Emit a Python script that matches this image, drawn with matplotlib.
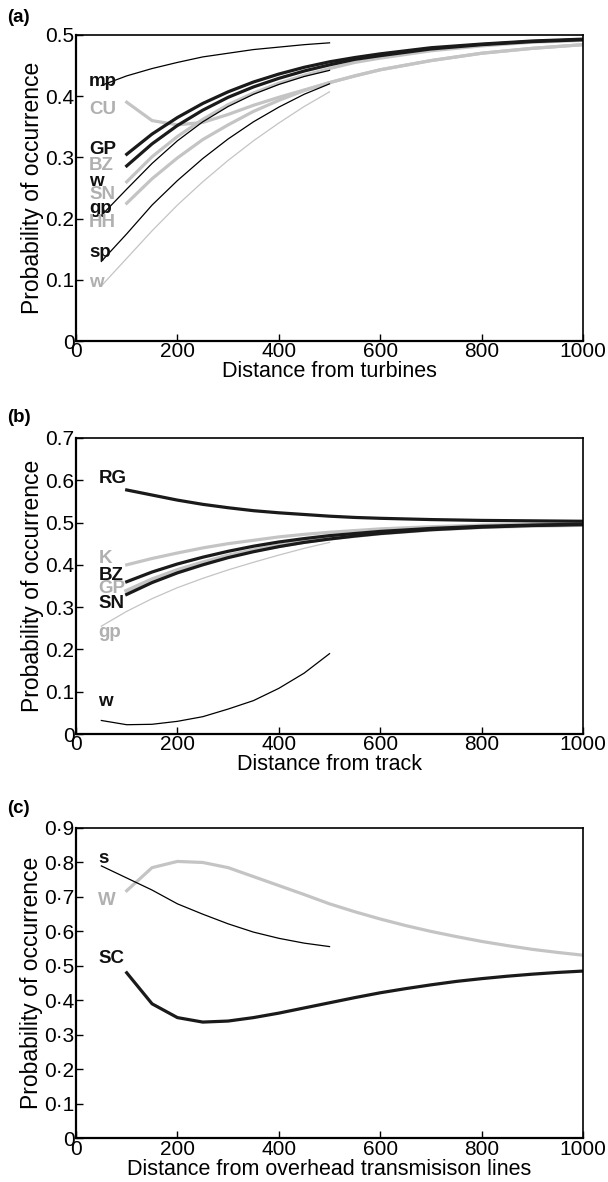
import matplotlib
matplotlib.use('Agg')
import matplotlib.pyplot as plt

plt.rcParams['font.family'] = ['Liberation Sans', 'DejaVu Sans']

GRIS = '#c4c4c4'
GRIS_TXT = '#b0b0b0'

# distances
x_long = [100, 150, 200, 250, 300, 350, 400, 450, 500, 550, 600, 700, 800, 900, 1000]
x_court = [50, 100, 150, 200, 250, 300, 350, 400, 450, 500]
x_c = [100, 150, 200, 250, 300, 350, 400, 450, 500, 550, 600, 650, 700, 750, 800, 850, 900, 950, 1000]

##### (a) turbines
a_GP = [.305, .338, .365, .388, .407, .423, .436, .447, .456, .463, .469, .479, .485, .490, .493]
a_noir2 = [.286, .322, .352, .377, .398, .415, .429, .441, .451, .460, .466, .477, .484, .489, .492]
a_BZ = [.260, .301, .334, .362, .386, .405, .421, .434, .445, .455, .462, .474, .482, .488, .491]
a_SN = [.225, .265, .299, .329, .353, .375, .393, .409, .422, .433, .443, .458, .470, .478, .484]
a_CU = [.390, .360, .353, .357, .370, .385, .398, .410, .422, .433, .443, .458, .470, .478, .484]
a_mp = [.4175, .433, .445, .455, .464, .470, .476, .480, .484, .487]
a_gp = [.205, .248, .290, .327, .358, .383, .403, .419, .432, .442]
a_sp = [.130, .175, .222, .262, .298, .330, .358, .382, .403, .420]
a_w = [.090, .135, .180, .222, .260, .295, .327, .356, .383, .407]

a_labels = ['mp', 'CU', 'GP', 'BZ', 'w', 'SN', 'gp', 'HH', 'sp', 'w']
a_label_y = [.424, .378, .312, .287, .260, .240, .217, .193, .144, .096]
a_label_gris = [False, True, False, True, False, True, False, True, False, True]

##### (b) track
b_RG = [.577, .565, .553, .543, .535, .528, .523, .519, .515, .512, .510, .507, .505, .504, .503]
b_K = [.400, .415, .428, .440, .450, .458, .466, .472, .477, .481, .485, .490, .494, .496, .497]
b_BZ = [.360, .383, .402, .418, .432, .444, .454, .462, .469, .474, .479, .486, .491, .494, .496]
b_GP = [.338, .365, .387, .405, .421, .434, .445, .455, .463, .469, .475, .484, .490, .493, .495]
b_SN = [.330, .358, .381, .400, .417, .431, .443, .453, .461, .468, .474, .483, .489, .493, .495]
b_gp = [.255, .290, .320, .346, .368, .388, .406, .423, .439, .453]
b_w = [.032, .022, .023, .030, .041, .059, .079, .108, .144, .190]

b_labels = ['RG', 'K', 'BZ', 'GP', 'SN', 'gp', 'w']
b_label_y = [.605, .414, .375, .343, .309, .240, .076]
b_label_gris = [False, True, False, True, False, True, False]

##### (c) overhead lines
c_W = [.718, .785, .803, .800, .785, .759, .733, .707, .680, .657, .636, .617, .600, .585, .571, .559, .548, .539, .531]
c_SC = [.480, .390, .350, .337, .340, .350, .363, .378, .393, .408, .422, .434, .445, .455, .463, .470, .476, .481, .485]
c_s = [.790, .755, .720, .680, .650, .622, .598, .580, .566, .556]

c_labels = ['s', 'W', 'SC']
c_label_y = [.812, .690, .520]
c_label_gris = [False, True, False]


fig = plt.figure(figsize=(6.08, 11.82), dpi=100)
ax1 = fig.add_axes([0.125, 0.7115, 0.834, 0.2590])
ax2 = fig.add_axes([0.125, 0.3790, 0.834, 0.2505])
ax3 = fig.add_axes([0.125, 0.0370, 0.834, 0.2625])

epais = 2.3
fin = 0.9

# (a)
ax1.plot(x_long, a_CU, color=GRIS, lw=epais)
ax1.plot(x_long, a_SN, color=GRIS, lw=epais)
ax1.plot(x_long, a_BZ, color=GRIS, lw=epais)
ax1.plot(x_court, a_w, color=GRIS, lw=fin)
ax1.plot(x_long, a_GP, color='#1a1a1a', lw=epais)
ax1.plot(x_long, a_noir2, color='#1a1a1a', lw=epais)
ax1.plot(x_court, a_mp, color='k', lw=fin)
ax1.plot(x_court, a_gp, color='k', lw=fin)
ax1.plot(x_court, a_sp, color='k', lw=fin)
for lab, y, g in zip(a_labels, a_label_y, a_label_gris):
    ax1.text(26, y, lab, color=GRIS_TXT if g else '#111111', fontsize=13.5,
             fontweight='bold', va='center', ha='left')

# (b)
ax2.plot(x_long, b_K, color=GRIS, lw=epais)
ax2.plot(x_long, b_GP, color=GRIS, lw=epais + 1)
ax2.plot(x_court, b_gp, color=GRIS, lw=fin)
ax2.plot(x_long, b_RG, color='#1a1a1a', lw=epais)
ax2.plot(x_long, b_BZ, color='#1a1a1a', lw=epais)
ax2.plot(x_long, b_SN, color='#1a1a1a', lw=epais)
ax2.plot(x_court, b_w, color='k', lw=fin)
for lab, y, g in zip(b_labels, b_label_y, b_label_gris):
    ax2.text(44, y, lab, color=GRIS_TXT if g else '#111111', fontsize=13.5,
             fontweight='bold', va='center', ha='left')

# (c)
ax3.plot(x_c, c_W, color=GRIS, lw=epais)
ax3.plot(x_c, c_SC, color='#1a1a1a', lw=epais)
ax3.plot(x_court, c_s, color='k', lw=fin)
for lab, y, g in zip(c_labels, c_label_y, c_label_gris):
    ax3.text(44, y, lab, color=GRIS_TXT if g else '#111111', fontsize=13.5,
             fontweight='bold', va='center', ha='left')

xlabels = ['Distance from turbines', 'Distance from track', 'Distance from overhead transmisison lines']
ymax = [0.5, 0.7, 0.9]
for ax, xl, ym in zip([ax1, ax2, ax3], xlabels, ymax):
    ax.set_xlim(0, 1000)
    ax.set_ylim(0, ym)
    ax.set_xticks([0, 200, 400, 600, 800, 1000])
    n = int(round(ym * 10))
    ax.set_yticks([i / 10 for i in range(n + 1)])
    ax.tick_params(direction='in', length=5, width=1, labelsize=15, pad=1,
                   top=False, right=False)
    ax.set_xlabel(xl, fontsize=15.5, labelpad=0)
    ax.set_ylabel('Probability of occurrence', fontsize=16.5, labelpad=1)
    for sp in ax.spines.values():
        sp.set_linewidth(1.2)
    ax.spines['bottom'].set_linewidth(1.6)
    ax.spines['left'].set_linewidth(1.6)

ax1.set_yticklabels(['0', '0.1', '0.2', '0.3', '0.4', '0.5'])
ax2.set_yticklabels(['0', '0.1', '0.2', '0.3', '0.4', '0.5', '0.6', '0.7'])
ax3.set_yticklabels(['0'] + ['0\u00b7%d' % i for i in range(1, 10)])

fig.text(0.012, 0.985, '(a)', fontsize=13.5, fontweight='bold', va='center')
fig.text(0.012, 0.647, '(b)', fontsize=13.5, fontweight='bold', va='center')
fig.text(0.012, 0.316, '(c)', fontsize=13.5, fontweight='bold', va='center')

fig.savefig('out.png', dpi=100)
